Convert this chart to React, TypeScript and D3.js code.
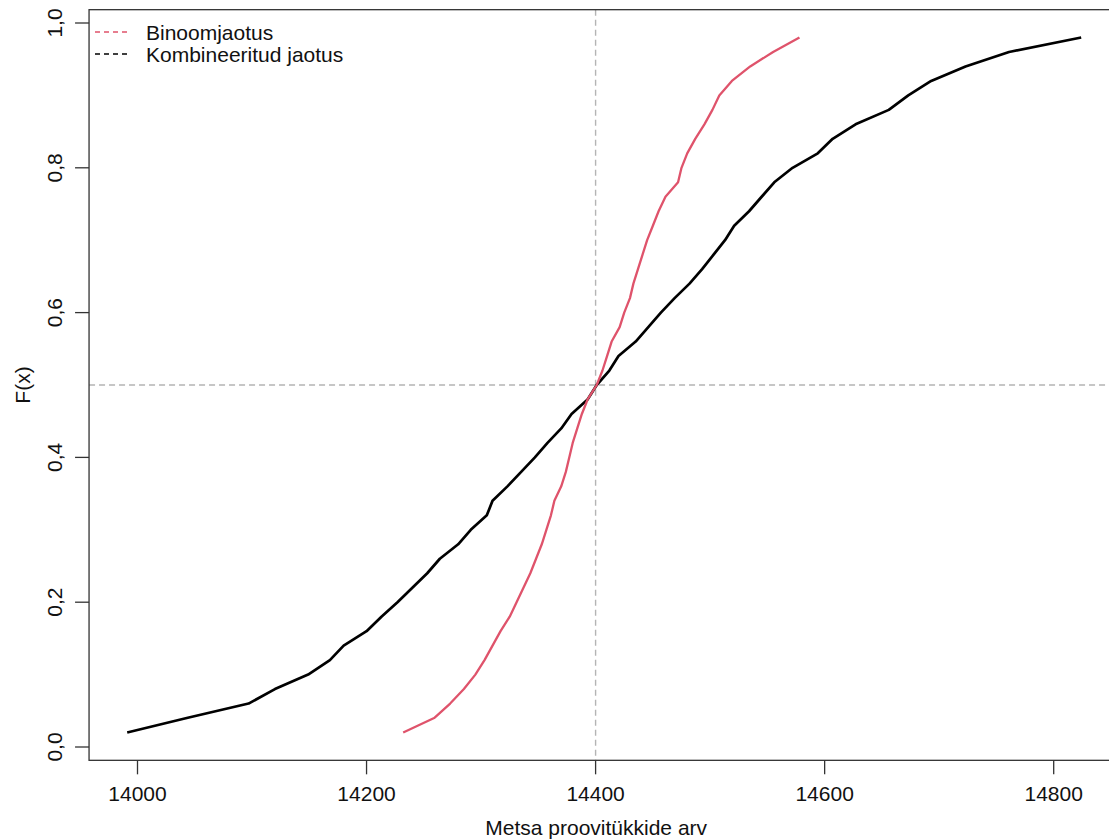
import React from "react";
import * as d3 from "d3";

const probs: number[] = [
  0.02, 0.04, 0.06, 0.08, 0.1, 0.12, 0.14, 0.16, 0.18, 0.2, 0.22, 0.24, 0.26, 0.28, 0.3, 0.32, 0.34,
  0.36, 0.38, 0.4, 0.42, 0.44, 0.46, 0.48, 0.5, 0.52, 0.54, 0.56, 0.58, 0.6, 0.62, 0.64, 0.66, 0.68,
  0.7, 0.72, 0.74, 0.76, 0.78, 0.8, 0.82, 0.84, 0.86, 0.88, 0.9, 0.92, 0.94, 0.96, 0.98,
];

const binomX: number[] = [
  14232, 14259, 14273, 14285, 14295, 14303, 14310, 14317, 14325, 14331, 14337, 14343, 14348, 14353,
  14357, 14361, 14364, 14370, 14374, 14377, 14380, 14384, 14388, 14393, 14401, 14406, 14410, 14414,
  14421, 14425, 14430, 14433, 14437, 14441, 14445, 14450, 14455, 14461, 14472, 14475, 14480, 14487,
  14495, 14502, 14508, 14519, 14535, 14555, 14578,
];

const combX: number[] = [
  13991, 14043, 14097, 14120, 14149, 14168, 14180, 14200, 14213, 14227, 14240, 14253, 14264, 14280,
  14291, 14305, 14310, 14323, 14335, 14347, 14358, 14370, 14379, 14393, 14401, 14412, 14420, 14435,
  14446, 14457, 14469, 14482, 14493, 14503, 14513, 14521, 14534, 14545, 14556, 14572, 14594, 14607,
  14627, 14656, 14673, 14693, 14723, 14761, 14824,
];

const xTicks: number[] = [14000, 14200, 14400, 14600, 14800];
const yTicks: number[] = [0, 0.2, 0.4, 0.6, 0.8, 1.0];
const legendLabels: string[] = ["Binoomjaotus", "Kombineeritud jaotus"];
const seriesColors: string[] = ["#DF536B", "#000000"];

const FONT = "'Liberation Sans', Arial, sans-serif";

export default function App() {
  const x = d3.scaleLinear().domain([14000, 14800]).range([137.5, 1053.7]);
  const y = d3.scaleLinear().domain([0, 1]).range([747, 23]);

  const xr = [13957.7, 14857.3];
  const yr = [-0.0184, 1.0184];
  const left = x(xr[0]);
  const right = x(xr[1]);
  const top = y(yr[1]);
  const bottom = y(yr[0]);

  const line = d3
    .line<[number, number]>()
    .x((d) => x(d[0]))
    .y((d) => y(d[1]));

  const binomPts: [number, number][] = binomX.map((v, i) => [v, probs[i]]);
  const combPts: [number, number][] = combX.map((v, i) => [v, probs[i]]);

  const fmt = (v: number) => v.toFixed(1).replace(".", ",");

  return (
    <svg
      width={1109}
      height={840}
      style={{ position: "absolute", left: 0, top: 0, background: "#fff" }}
      fontFamily={FONT}
    >
      <rect x={0} y={0} width={1109} height={840} fill="#fff" />
      {/* reference lines */}
      <line
        x1={x(14400)}
        x2={x(14400)}
        y1={top}
        y2={bottom}
        stroke="#b4b4b4"
        strokeWidth={1.4}
        strokeDasharray="6,4"
      />
      <line
        x1={left}
        x2={right}
        y1={y(0.5)}
        y2={y(0.5)}
        stroke="#b4b4b4"
        strokeWidth={1.4}
        strokeDasharray="6,4"
      />
      {/* curves */}
      <path d={line(combPts) || ""} fill="none" stroke={seriesColors[1]} strokeWidth={2.7} strokeLinejoin="round" />
      <path d={line(binomPts) || ""} fill="none" stroke={seriesColors[0]} strokeWidth={2.3} strokeLinejoin="round" />
      {/* box */}
      <rect x={left} y={top} width={right - left} height={bottom - top} fill="none" stroke="#333" strokeWidth={1.3} />
      {/* x axis */}
      {xTicks.map((t) => (
        <g key={"xt" + t}>
          <line x1={x(t)} x2={x(t)} y1={bottom} y2={bottom + 14} stroke="#333" strokeWidth={1.3} />
          <text x={x(t)} y={801} textAnchor="middle" fontSize={21} fill="#111">
            {t}
          </text>
        </g>
      ))}
      {/* y axis */}
      {yTicks.map((t) => (
        <g key={"yt" + t}>
          <line x1={left - 14} x2={left} y1={y(t)} y2={y(t)} stroke="#333" strokeWidth={1.3} />
          <text
            transform={`translate(62,${y(t)}) rotate(-90)`}
            textAnchor="middle"
            fontSize={21}
            fill="#111"
          >
            {fmt(t)}
          </text>
        </g>
      ))}
      <text x={(left + right) / 2 - 8} y={835} textAnchor="middle" fontSize={21} fill="#111">
        Metsa proovitükkide arv
      </text>
      <text transform={`translate(30,${(top + bottom) / 2}) rotate(-90)`} textAnchor="middle" fontSize={21} fill="#111">
        F(x)
      </text>
      {/* legend */}
      {legendLabels.map((lab, i) => (
        <g key={lab}>
          <line
            x1={95}
            x2={131}
            y1={32 + i * 22}
            y2={32 + i * 22}
            stroke={seriesColors[i]}
            strokeWidth={1.3}
            strokeDasharray="5,4"
          />
          <text x={146} y={40 + i * 22} fontSize={21} fill="#111">
            {lab}
          </text>
        </g>
      ))}
    </svg>
  );
}
